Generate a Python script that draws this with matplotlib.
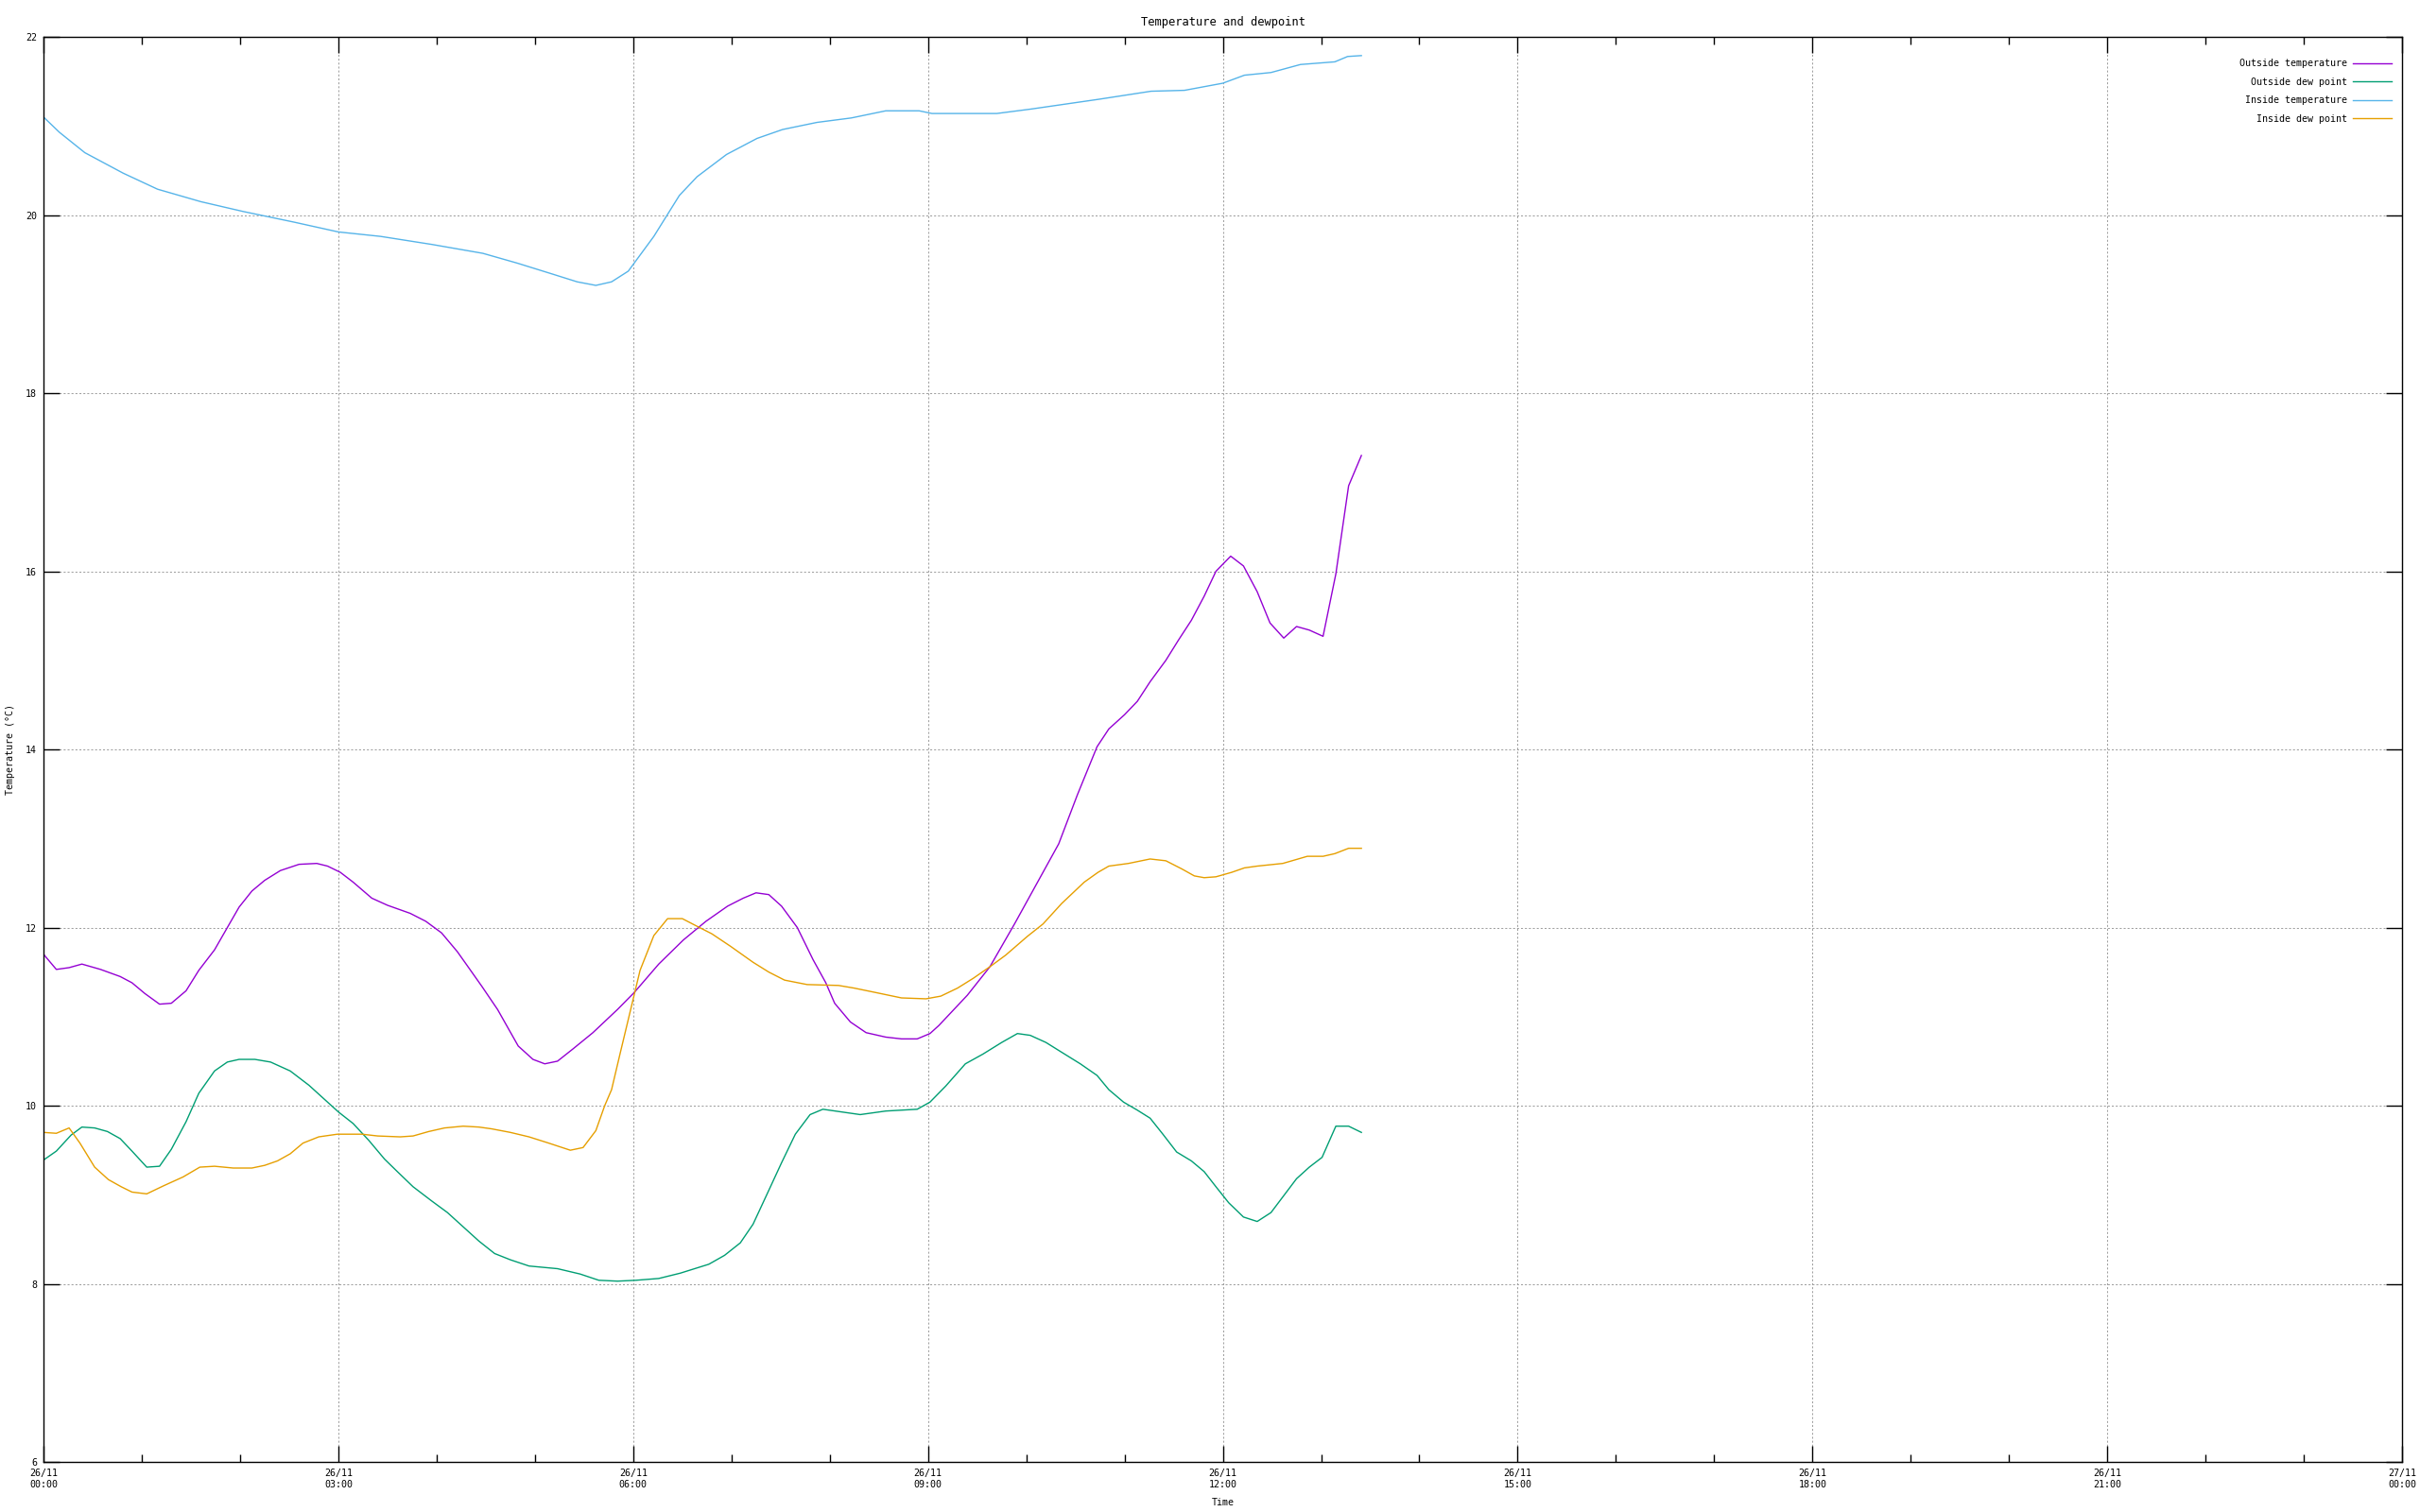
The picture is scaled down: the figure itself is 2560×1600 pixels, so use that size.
import pandas as pd
import matplotlib
matplotlib.use("Agg")
import matplotlib.pyplot as plt
import matplotlib.dates as mdates

# Readings on 26/11, time given in hours after midnight
out_temp_h = [0.0, 0.13, 0.26, 0.39, 0.58, 0.78, 0.90, 1.03, 1.18, 1.30, 1.45, 1.58, 1.74, 1.87,
              1.99, 2.12, 2.25, 2.41, 2.60, 2.78, 2.89, 3.02, 3.15, 3.34, 3.50, 3.73, 3.89, 4.05,
              4.21, 4.30, 4.46, 4.62, 4.83, 4.98, 5.10, 5.23, 5.39, 5.59, 5.84, 6.01, 6.26, 6.51,
              6.74, 6.96, 7.12, 7.25, 7.38, 7.51, 7.67, 7.83, 7.96, 8.05, 8.21, 8.37, 8.57, 8.73,
              8.89, 9.02, 9.11, 9.40, 9.63, 9.88, 10.14, 10.33, 10.52, 10.72, 10.84, 11.00, 11.13,
              11.26, 11.42, 11.55, 11.68, 11.81, 11.93, 12.08, 12.21, 12.35, 12.48, 12.62, 12.75,
              12.88, 13.02, 13.15, 13.28, 13.41]
out_temp = [11.70, 11.53, 11.55, 11.59, 11.53, 11.45, 11.38, 11.26, 11.14, 11.15, 11.29, 11.52,
            11.75, 12.00, 12.23, 12.41, 12.53, 12.64, 12.71, 12.72, 12.69, 12.62, 12.51, 12.33,
            12.25, 12.16, 12.07, 11.94, 11.73, 11.59, 11.34, 11.08, 10.67, 10.52, 10.47, 10.50,
            10.64, 10.82, 11.08, 11.27, 11.59, 11.86, 12.07, 12.24, 12.33, 12.39, 12.37, 12.24,
            12.00, 11.64, 11.38, 11.15, 10.94, 10.82, 10.77, 10.75, 10.75, 10.81, 10.90, 11.24,
            11.56, 12.04, 12.56, 12.94, 13.49, 14.03, 14.23, 14.39, 14.54, 14.76, 15.00, 15.23,
            15.45, 15.72, 16.00, 16.17, 16.06, 15.77, 15.42, 15.25, 15.38, 15.34, 15.27, 15.97,
            16.96, 17.30]

out_dew_h = [0.0, 0.13, 0.28, 0.39, 0.52, 0.65, 0.78, 0.90, 1.05, 1.18, 1.30, 1.45, 1.58, 1.74,
             1.87, 1.99, 2.15, 2.31, 2.51, 2.70, 2.86, 3.00, 3.15, 3.31, 3.47, 3.60, 3.76, 3.95,
             4.11, 4.27, 4.43, 4.59, 4.75, 4.94, 5.23, 5.46, 5.65, 5.84, 6.03, 6.26, 6.48, 6.77,
             6.93, 7.09, 7.22, 7.38, 7.51, 7.65, 7.80, 7.93, 8.12, 8.31, 8.57, 8.89, 9.02, 9.18,
             9.38, 9.56, 9.75, 9.91, 10.04, 10.20, 10.36, 10.55, 10.72, 10.84, 10.99, 11.13,
             11.26, 11.39, 11.53, 11.68, 11.81, 11.93, 12.06, 12.21, 12.35, 12.49, 12.62, 12.75,
             12.88, 13.01, 13.15, 13.28, 13.41]
out_dew = [9.39, 9.49, 9.67, 9.76, 9.75, 9.71, 9.63, 9.49, 9.31, 9.32, 9.51, 9.82, 10.14, 10.39,
           10.49, 10.52, 10.52, 10.49, 10.39, 10.23, 10.07, 9.93, 9.80, 9.61, 9.40, 9.26, 9.09,
           8.93, 8.80, 8.64, 8.48, 8.34, 8.27, 8.20, 8.17, 8.11, 8.04, 8.03, 8.04, 8.06, 8.12,
           8.22, 8.32, 8.46, 8.67, 9.05, 9.36, 9.68, 9.90, 9.96, 9.93, 9.90, 9.94, 9.96, 10.04,
           10.22, 10.47, 10.58, 10.71, 10.81, 10.79, 10.71, 10.60, 10.47, 10.34, 10.18, 10.04,
           9.95, 9.86, 9.68, 9.48, 9.38, 9.26, 9.09, 8.91, 8.75, 8.70, 8.80, 8.99, 9.18, 9.31,
           9.42, 9.77, 9.77, 9.70]

in_temp_h = [0.0, 0.16, 0.42, 0.81, 1.16, 1.60, 2.03, 2.55, 3.00, 3.43, 3.95, 4.47, 4.82, 5.17,
             5.43, 5.62, 5.78, 5.95, 6.21, 6.47, 6.65, 6.95, 7.26, 7.52, 7.87, 8.22, 8.57, 8.91,
             9.04, 9.70, 10.05, 10.74, 11.27, 11.61, 12.00, 12.22, 12.49, 12.79, 13.14, 13.27,
             13.41]
in_temp = [21.10, 20.93, 20.70, 20.47, 20.29, 20.15, 20.04, 19.92, 19.81, 19.76, 19.67, 19.57,
           19.46, 19.34, 19.25, 19.21, 19.25, 19.37, 19.76, 20.22, 20.43, 20.68, 20.86, 20.96,
           21.04, 21.09, 21.17, 21.17, 21.14, 21.14, 21.19, 21.30, 21.39, 21.40, 21.48, 21.57,
           21.60, 21.69, 21.72, 21.78, 21.79]

in_dew_h = [0.0, 0.13, 0.26, 0.37, 0.52, 0.66, 0.79, 0.90, 1.05, 1.22, 1.42, 1.59, 1.74, 1.93,
            2.12, 2.25, 2.38, 2.51, 2.64, 2.80, 2.99, 3.24, 3.40, 3.63, 3.76, 3.92, 4.08, 4.27,
            4.43, 4.56, 4.75, 4.94, 5.14, 5.36, 5.49, 5.62, 5.71, 5.78, 5.87, 5.97, 6.07, 6.21,
            6.35, 6.50, 6.64, 6.80, 6.99, 7.22, 7.38, 7.54, 7.77, 8.09, 8.25, 8.47, 8.73, 8.98,
            9.13, 9.30, 9.46, 9.63, 9.79, 10.01, 10.17, 10.36, 10.59, 10.73, 10.84, 11.04, 11.26,
            11.42, 11.58, 11.71, 11.81, 11.93, 12.09, 12.22, 12.35, 12.61, 12.86, 13.02, 13.14,
            13.28, 13.41]
in_dew = [9.70, 9.69, 9.75, 9.58, 9.31, 9.17, 9.09, 9.03, 9.01, 9.10, 9.20, 9.31, 9.32, 9.30,
          9.30, 9.33, 9.38, 9.46, 9.58, 9.65, 9.68, 9.68, 9.66, 9.65, 9.66, 9.71, 9.75, 9.77,
          9.76, 9.74, 9.70, 9.65, 9.58, 9.50, 9.53, 9.72, 10.00, 10.18, 10.60, 11.06, 11.52,
          11.91, 12.10, 12.10, 12.02, 11.93, 11.79, 11.61, 11.50, 11.41, 11.36, 11.35, 11.32,
          11.27, 11.21, 11.20, 11.23, 11.32, 11.43, 11.56, 11.69, 11.90, 12.04, 12.27, 12.51,
          12.62, 12.69, 12.72, 12.77, 12.75, 12.66, 12.58, 12.56, 12.57, 12.62, 12.67, 12.69,
          12.72, 12.80, 12.80, 12.83, 12.89, 12.89]

series = [
    ("Outside temperature", out_temp_h, out_temp, "#9400d3"),
    ("Outside dew point", out_dew_h, out_dew, "#009e73"),
    ("Inside temperature", in_temp_h, in_temp, "#56b4e9"),
    ("Inside dew point", in_dew_h, in_dew, "#e69f00"),
]

day = pd.Timestamp("2023-11-26")

plt.rcParams["font.family"] = ["DejaVu Sans Mono"]
plt.rcParams["font.size"] = 7.2

fig = plt.figure(figsize=(25.6, 16), dpi=100)
ax = fig.add_axes([0.018, 0.0331, 0.9746, 0.9425])

for label, hrs, vals, color in series:
    t = day + pd.to_timedelta(hrs, unit="h")
    ax.plot(t, vals, color=color, lw=1.0, label=label)

ax.set_xlim(day, day + pd.Timedelta(hours=24))
ax.set_ylim(6, 22)
ax.set_yticks(range(6, 23, 2))

ax.xaxis.set_major_locator(mdates.HourLocator(byhour=range(0, 24, 3)))
ax.xaxis.set_minor_locator(mdates.HourLocator())
ax.xaxis.set_major_formatter(mdates.DateFormatter("%d/%m\n%H:%M"))

ax.tick_params(which="major", direction="in", length=12, width=1.0, top=True, right=True, pad=5)
ax.tick_params(which="minor", direction="in", length=6, width=1.0, top=True, right=True)
for s in ax.spines.values():
    s.set_linewidth(1.0)

ax.grid(which="major", color="#a0a0a0", lw=0.75, linestyle=(0, (2, 2)))

ax.set_title("Temperature and dewpoint", pad=9)
ax.set_xlabel("Time", labelpad=7)
ax.set_ylabel("Temperature (°C)", labelpad=8)

# gnuplot style key: label on the left, right aligned, sample line on the right
leg = ax.legend(loc="upper right", bbox_to_anchor=(0.9956, 0.9845), frameon=False,
                markerfirst=False, handlelength=4.1, handletextpad=0.6,
                labelspacing=0.95, borderaxespad=0, borderpad=0)
for col in leg._legend_handle_box.get_children():
    col.align = "right"

fig.savefig("out.png", dpi=100)
